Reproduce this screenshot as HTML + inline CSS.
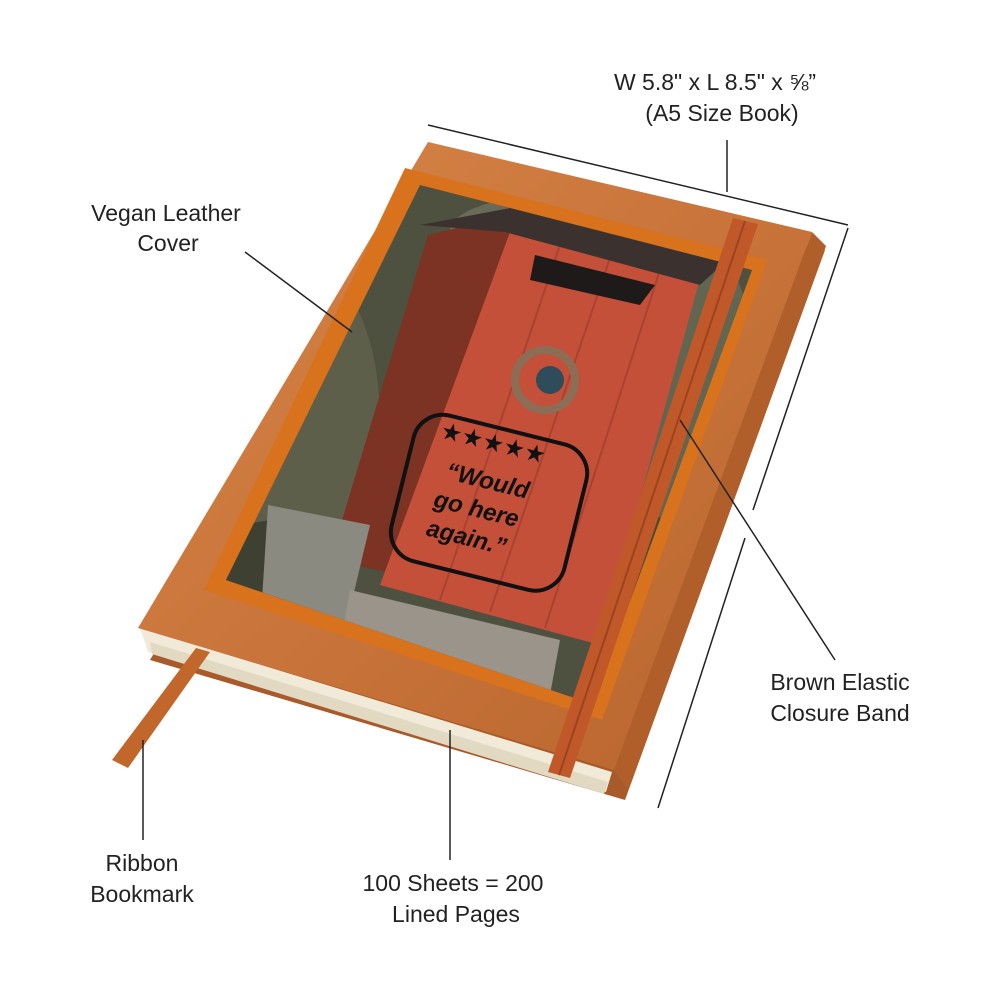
<!DOCTYPE html>
<html><head><meta charset="utf-8"><style>
html,body{margin:0;padding:0;background:#fff;width:1000px;height:1000px;overflow:hidden}
svg{display:block}
text{font-family:"Liberation Sans",sans-serif;font-size:23px;fill:#222}
</style></head><body>
<svg width="1000" height="1000" viewBox="0 0 1000 1000">
<defs>
<linearGradient id="lea" x1="0" y1="0" x2="1" y2="1">
<stop offset="0" stop-color="#d9864a"/><stop offset="0.5" stop-color="#c8743a"/><stop offset="1" stop-color="#b8652e"/>
</linearGradient>
<clipPath id="pc"><polygon points="420,185 752,270 592,704 226,580"/></clipPath>
</defs>
<polygon points="445,160 825,250 625,800 150,660" fill="#a85a2a"/>
<polygon points="140,628 612,772 606,792 148,652" fill="#f1ead8"/>
<polygon points="150,642 608,782 604,794 152,654" fill="#e2d9c3"/>
<polygon points="428,142 812,232 614,770 138,628" fill="url(#lea)"/>
<polygon points="812,232 826,246 628,790 614,770" fill="#b15f2a"/>
<polygon points="405,168 767,260 602,720 204,590" fill="#d8721c"/>
<g clip-path="url(#pc)">
<rect x="200" y="170" width="580" height="560" fill="#4e5040"/>
<ellipse cx="300" cy="420" rx="80" ry="160" fill="#5d5f4a"/>
<ellipse cx="700" cy="420" rx="60" ry="180" fill="#626650"/>
<ellipse cx="600" cy="230" rx="150" ry="40" fill="#6a6a58"/>
<ellipse cx="280" cy="560" rx="70" ry="40" fill="#3e4132"/>
<ellipse cx="640" cy="600" rx="50" ry="90" fill="#454a38"/>
<polygon points="428,235 510,215 520,600 330,560" fill="#7c3324"/>
<polygon points="510,232 700,278 600,645 380,585" fill="#c5503a"/>
<g stroke="#a84330" stroke-width="2">
<line x1="560" y1="245" x2="440" y2="600"/><line x1="610" y1="258" x2="490" y2="612"/><line x1="660" y1="270" x2="545" y2="628"/>
</g>
<polygon points="420,225 510,208 725,262 700,285 505,232" fill="#3b3230"/>
<polygon points="535,255 655,285 640,305 530,280" fill="#1e1a1a"/>
<polygon points="268,505 370,525 345,630 262,600" fill="#8a8a80"/>
<polygon points="350,590 560,640 550,695 340,645" fill="#9b948a"/>
<circle cx="545" cy="380" r="30" fill="none" stroke="#8b6e55" stroke-width="8"/>
<circle cx="550" cy="380" r="14" fill="#2f4c5a"/>
</g>
<rect x="400" y="428" width="178" height="150" rx="30" fill="none" stroke="#111" stroke-width="4" transform="rotate(14 490 503)"/>
<text x="425" y="452" transform="rotate(14 490 503)" style="font-size:24px;fill:#111">★★★★★</text>
<text x="440" y="490" transform="rotate(14 490 503)" style="font-size:24px;font-style:italic;font-weight:bold;fill:#111">“Would</text>
<text x="435" y="520" transform="rotate(14 490 503)" style="font-size:24px;font-style:italic;font-weight:bold;fill:#111">go here</text>
<text x="435" y="550" transform="rotate(14 490 503)" style="font-size:24px;font-style:italic;font-weight:bold;fill:#111">again.”</text>
<polygon points="733,218 758,224 570,778 548,772" fill="#c0582a"/>
<line x1="745" y1="221" x2="559" y2="775" stroke="#9a4420" stroke-width="2"/>
<polygon points="196,648 210,652 128,768 112,760" fill="#c2672c"/>
<g stroke="#222" stroke-width="1.5" fill="none">
<line x1="428" y1="125" x2="848" y2="225"/>
<line x1="727" y1="140" x2="727" y2="192"/>
<line x1="848" y1="228" x2="753" y2="510"/>
<line x1="745" y1="538" x2="658" y2="808"/>
<line x1="245" y1="252" x2="352" y2="332"/>
<line x1="680" y1="420" x2="835" y2="660"/>
<line x1="143" y1="740" x2="143" y2="840"/>
<line x1="450" y1="730" x2="450" y2="860"/>
</g>
<text x="715" y="90" text-anchor="middle">W 5.8" x L 8.5" x ⅝”</text>
<text x="722" y="121" text-anchor="middle">(A5 Size Book)</text>
<text x="166" y="221" text-anchor="middle">Vegan Leather</text>
<text x="168" y="251" text-anchor="middle">Cover</text>
<text x="840" y="690" text-anchor="middle">Brown Elastic</text>
<text x="840" y="721" text-anchor="middle">Closure Band</text>
<text x="142" y="871" text-anchor="middle">Ribbon</text>
<text x="142" y="902" text-anchor="middle">Bookmark</text>
<text x="453" y="891" text-anchor="middle">100 Sheets = 200</text>
<text x="456" y="922" text-anchor="middle">Lined Pages</text>
</svg>
</body></html>
